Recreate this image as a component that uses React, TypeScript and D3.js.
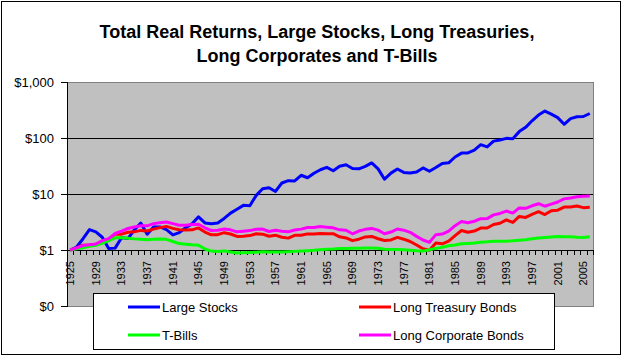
import React from "react";
import * as d3 from "d3";

const years: number[] = Array.from({ length: 82 }, (_, i) => 1925 + i);

const largeStocks = [
  1.0, 1.13, 1.59, 2.31, 2.11, 1.69, 1.06, 1.08, 1.66, 1.6,
  2.29, 3.03, 1.91, 2.58, 2.58, 2.31, 1.86, 2.05, 2.5, 2.93,
  3.91, 3.04, 2.95, 3.03, 3.66, 4.56, 5.34, 6.27, 6.17, 9.46,
  12.4, 12.9, 11.1, 15.7, 17.3, 17.1, 21.6, 19.5, 23.5, 27.1,
  29.9, 26.0, 31.3, 33.2, 28.6, 28.2, 31.2, 35.9, 28.1, 18.4,
  23.6, 27.9, 24.3, 23.7, 24.8, 29.2, 25.5, 29.8, 35.2, 36.0,
  45.8, 53.7, 54.1, 60.5, 76.0, 69.4, 87.9, 92.0, 98.5, 97.2,
  130, 155, 203, 257, 303, 267, 231, 176, 222, 239,
  242, 274,
];

const longTreasury = [
  1.0, 1.09, 1.22, 1.23, 1.27, 1.41, 1.48, 1.93, 1.92, 2.07,
  2.11, 2.24, 2.18, 2.36, 2.51, 2.64, 2.43, 2.3, 2.27, 2.29,
  2.48, 2.09, 1.87, 1.88, 2.04, 1.93, 1.75, 1.76, 1.81, 1.95,
  1.92, 1.76, 1.84, 1.69, 1.63, 1.83, 1.83, 1.94, 1.93, 1.97,
  1.95, 1.96, 1.72, 1.64, 1.47, 1.56, 1.71, 1.75, 1.59, 1.48,
  1.51, 1.68, 1.56, 1.42, 1.23, 1.05, 0.99, 1.33, 1.29, 1.44,
  1.81, 2.23, 2.08, 2.18, 2.46, 2.47, 2.85, 3.0, 3.45, 3.1,
  3.98, 3.81, 4.34, 4.83, 4.29, 5.04, 5.14, 5.85, 5.85, 6.1,
  5.7, 5.8,
];

const tBills = [
  1.0, 1.05, 1.1, 1.16, 1.21, 1.32, 1.47, 1.65, 1.65, 1.62,
  1.58, 1.56, 1.52, 1.56, 1.57, 1.55, 1.42, 1.3, 1.27, 1.24,
  1.22, 1.04, 0.955, 0.937, 0.965, 0.923, 0.885, 0.892, 0.903, 0.915,
  0.926, 0.922, 0.923, 0.921, 0.934, 0.945, 0.959, 0.973, 0.987, 1.01,
  1.03, 1.04, 1.06, 1.06, 1.07, 1.08, 1.09, 1.09, 1.07, 1.03,
  1.02, 1.02, 1.01, 0.99, 0.965, 0.955, 1.01, 1.07, 1.12, 1.19,
  1.23, 1.29, 1.31, 1.33, 1.38, 1.4, 1.43, 1.44, 1.44, 1.46,
  1.5, 1.53, 1.59, 1.64, 1.67, 1.71, 1.75, 1.73, 1.72, 1.69,
  1.68, 1.72,
];

const longCorporate = [
  1.0, 1.09, 1.2, 1.24, 1.28, 1.47, 1.6, 1.97, 2.17, 2.42,
  2.57, 2.71, 2.7, 2.95, 3.08, 3.16, 2.96, 2.77, 2.77, 2.84,
  2.89, 2.49, 2.23, 2.26, 2.38, 2.29, 2.11, 2.16, 2.22, 2.35,
  2.36, 2.14, 2.25, 2.17, 2.11, 2.27, 2.36, 2.52, 2.53, 2.62,
  2.56, 2.49, 2.29, 2.25, 1.95, 2.18, 2.34, 2.43, 2.26, 1.95,
  2.09, 2.37, 2.26, 2.07, 1.75, 1.51, 1.37, 1.88, 1.93, 2.17,
  2.72, 3.22, 3.07, 3.26, 3.62, 3.64, 4.24, 4.5, 4.96, 4.56,
  5.65, 5.55, 6.16, 6.71, 6.05, 6.61, 7.2, 8.18, 8.45, 8.9,
  9.11, 9.17,
];

const seriesNames = ["Large Stocks", "Long Treasury Bonds", "T-Bills", "Long Corporate Bonds"];
const seriesColors = ["#0000FF", "#FF0000", "#00FF00", "#FF00FF"];
const seriesValues = [largeStocks, longTreasury, tBills, longCorporate];

const yTickValues = [1000, 100, 10, 1, 0.1];
const yTickLabels = ["$1,000", "$100", "$10", "$1", "$0"];
const xLabelYears = years.filter((y) => (y - 1925) % 4 === 0);

const titleLines = [
  "Total Real Returns, Large Stocks, Long Treasuries,",
  "Long Corporates and T-Bills",
];

const FONT = "'Liberation Sans', Arial, sans-serif";

export default function App() {
  const W = 624;
  const H = 358;
  const left = 67, right = 593, top = 82, bottom = 306;

  const x = d3.scalePoint<number>().domain(years).range([left, right]).padding(0.5);
  const step = x.step();
  const y = d3.scaleLog().domain([0.1, 1000]).range([bottom, top]);
  const y1 = y(1);

  const line = d3
    .line<number>()
    .x((_, i) => x(years[i]) as number)
    .y((d) => y(d));

  const boundaries = d3.range(years.length + 1).map((k) => left + k * step);

  const legendItems = seriesNames.map((name, i) => ({
    name,
    color: seriesColors[i],
    col: i % 2,
    row: Math.floor(i / 2),
  }));

  return (
    <svg
      width={W}
      height={H}
      style={{ position: "absolute", left: 0, top: 0, background: "#fff" }}
      fontFamily={FONT}
    >
      <rect x={0} y={0} width={W} height={H} fill="#fff" />
      <rect x={1.5} y={1.5} width={619} height={353} fill="none" stroke="#000" strokeWidth={1} />

      {titleLines.map((t, i) => (
        <text
          key={i}
          x={317}
          y={38 + i * 24}
          textAnchor="middle"
          fontWeight="bold"
          fontSize={18}
          fill="#000"
        >
          {t}
        </text>
      ))}

      {/* plot area */}
      <rect
        x={left + 0.5}
        y={top + 0.5}
        width={right - left}
        height={bottom - top}
        fill="#C0C0C0"
        stroke="#808080"
        strokeWidth={1}
      />

      {/* gridlines */}
      {[100, 10].map((v) => (
        <line
          key={v}
          x1={left}
          x2={right}
          y1={Math.round(y(v)) + 0.5}
          y2={Math.round(y(v)) + 0.5}
          stroke="#000"
          strokeWidth={1}
        />
      ))}

      {/* y axis */}
      <line x1={left + 0.5} x2={left + 0.5} y1={top} y2={bottom + 1} stroke="#000" />
      {yTickValues.map((v, i) => (
        <g key={v}>
          <line
            x1={left - 6}
            x2={left}
            y1={Math.round(y(v)) + 0.5}
            y2={Math.round(y(v)) + 0.5}
            stroke="#000"
          />
          <text
            x={54}
            y={y(v)}
            dy="0.35em"
            textAnchor="end"
            fontSize={13}
            fill="#000"
          >
            {yTickLabels[i]}
          </text>
        </g>
      ))}

      {/* x axis at $1 */}
      <line x1={left} x2={right} y1={Math.round(y1) + 0.5} y2={Math.round(y1) + 0.5} stroke="#000" />
      {boundaries.map((bx, k) => (
        <line
          key={k}
          x1={Math.round(bx) + 0.5}
          x2={Math.round(bx) + 0.5}
          y1={Math.round(y1)}
          y2={Math.round(y1) + 5}
          stroke="#000"
        />
      ))}
      {xLabelYears.map((yr) => {
        const cx = x(yr) as number;
        const ty = Math.round(y1) + 11;
        return (
          <text
            key={yr}
            x={cx}
            y={ty}
            dy="0.35em"
            textAnchor="end"
            fontSize={11}
            fill="#000"
            transform={`rotate(-90, ${cx}, ${ty})`}
          >
            {yr}
          </text>
        );
      })}

      {/* series */}
      {seriesValues.map((vals, i) => (
        <path
          key={i}
          d={line(vals) || ""}
          fill="none"
          stroke={seriesColors[i]}
          strokeWidth={3}
          strokeLinejoin="round"
        />
      ))}

      {/* legend */}
      <rect x={93.5} y={293.5} width={461} height={56} fill="#fff" stroke="#000" />
      {legendItems.map((it) => {
        const lx = it.col === 0 ? 128 : 359;
        const ly = it.row === 0 ? 307 : 335;
        return (
          <g key={it.name}>
            <line x1={lx} x2={lx + 32} y1={ly} y2={ly} stroke={it.color} strokeWidth={3} />
            <text x={lx + 34} y={ly} dy="0.35em" fontSize={13} fill="#000">
              {it.name}
            </text>
          </g>
        );
      })}
    </svg>
  );
}
